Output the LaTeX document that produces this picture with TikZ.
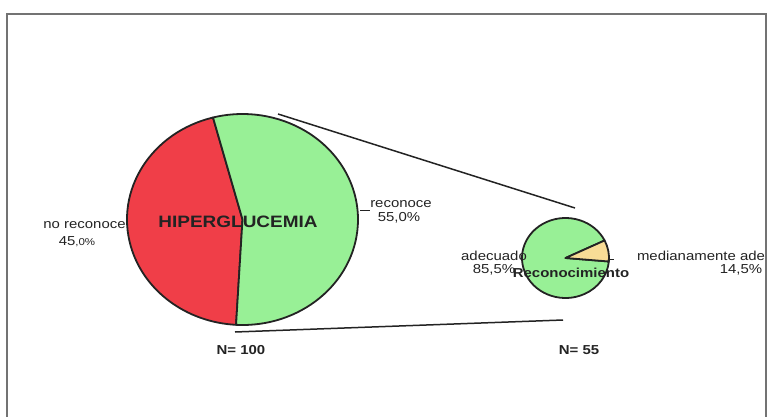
\documentclass[tikz,border=0pt]{standalone}
\usepackage{fontspec}
\setmainfont{Liberation Sans}[FakeStretch=1.15]
\definecolor{redc}{RGB}{240,62,72}
\definecolor{greenc}{RGB}{152,240,150}
\definecolor{tanc}{RGB}{248,220,150}
\definecolor{inkc}{RGB}{35,35,35}
\begin{document}
\begin{tikzpicture}[x=1pt,y=1pt,
  lbl/.style={inner sep=0pt, text=inkc, font=\fontsize{13}{15}\selectfont},
  blbl/.style={inner sep=0pt, text=inkc, font=\fontsize{13}{15}\selectfont\bfseries},
  bigtitle/.style={inner sep=0pt, text=inkc, font=\fontsize{16.5}{18}\selectfont\bfseries},
  pieedge/.style={draw=inkc, line width=1.8pt, line join=round},
  conn/.style={draw=inkc, line width=1.5pt},
  frame/.style={draw=black!55, line width=1.2pt}]
\useasboundingbox (0,0) rectangle (770,416);
\draw[frame] (7,-5) -- (7,402) -- (766,402) -- (766,-5);

% big pie
\coordinate (bc) at (242.5,196.5);
\filldraw[pieedge, fill=redc] (bc) -- ++(104.8:115.5 and 105.5)
  arc[start angle=104.8, end angle=266.8, x radius=115.5, y radius=105.5] -- cycle;
\filldraw[pieedge, fill=greenc] (bc) -- ++(266.8:115.5 and 105.5)
  arc[start angle=266.8, end angle=464.8, x radius=115.5, y radius=105.5] -- cycle;

% small pie
\coordinate (sc) at (565.5,158);
\filldraw[pieedge, fill=greenc] (sc) -- ++(26:43.5 and 40)
  arc[start angle=26, end angle=355, x radius=43.5, y radius=40] -- cycle;
\filldraw[pieedge, fill=tanc] (sc) -- ++(-5:43.5 and 40)
  arc[start angle=-5, end angle=26, x radius=43.5, y radius=40] -- cycle;

% connector lines
\coordinate (t1) at (278,302);
\coordinate (t2) at (575,208);
\coordinate (b1) at (235,84);
\coordinate (b2) at (563,96);
\draw[conn] (t1) -- (t2);
\draw[conn] (b1) -- (b2);

% labels big pie
\node[lbl] (nr) at (84.5,191) {no reconoce};
\node[lbl] (nrp) at (77,174) {45{\fontsize{10}{12}\selectfont ,0\%}};
\node[bigtitle] (hip) at (238,194) {HIPERGLUCEMIA};
\coordinate (rl1) at (360,206);
\coordinate (rl2) at (370,206);
\draw[inkc, line width=0.7pt] (rl1) -- (rl2);
\node[lbl] (rc) at (401,212) {reconoce};
\node[lbl] (rcp) at (399,198) {55,0\%};

% labels small pie
\node[lbl] (ad) at (494,160) {adecuado};
\node[lbl] (adp) at (494,146) {85,5\%};
\node[blbl] (rec) at (571,143) {Reconocimiento};
\coordinate (ml1) at (609,157);
\coordinate (ml2) at (614,157);
\draw[inkc, line width=0.7pt] (ml1) -- (ml2);
\node[lbl] (md) at (701,160) {medianamente ade};
\node[lbl] (mdp) at (741,146) {14,5\%};

% N labels
\node[blbl] (n1) at (241,66) {N= 100};
\node[blbl] (n2) at (579,66) {N= 55};
\end{tikzpicture}
\end{document}
